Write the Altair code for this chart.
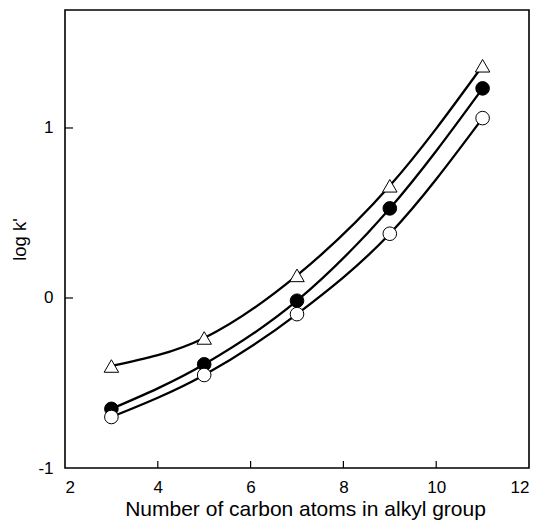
import altair as alt
import pandas as pd

carbons = [3, 5, 7, 9, 11]
triangle_vals = [-0.40, -0.235, 0.133, 0.66, 1.366]
filled_vals = [-0.652, -0.39, -0.016, 0.527, 1.233]
open_vals = [-0.70, -0.453, -0.095, 0.378, 1.058]

x_tick_labels = [2, 4, 6, 8, 10, 12]
y_tick_labels = [-1, 0, 1]
x_inner_ticks = [4, 6, 8, 10]
y_inner_ticks = [0, 1]

W, H = 464, 458
FONT = "Liberation Sans"

rows = []
for name, vals in [("triangle", triangle_vals), ("filled", filled_vals), ("open", open_vals)]:
    for c, v in zip(carbons, vals):
        rows.append({"n": c, "logk": v, "series": name})
df = pd.DataFrame(rows)

xscale = alt.Scale(domain=[2, 12], nice=False, zero=False)
yscale = alt.Scale(domain=[-1, 1.694], nice=False, zero=False)

xaxis = alt.Axis(values=x_tick_labels, ticks=False, domain=False, grid=False,
                 labelFontSize=17, labelPadding=11, labelFont=FONT,
                 labelColor="black", title="Number of carbon atoms in alkyl group",
                 titleFontSize=21, titleFont=FONT, titleFontWeight="normal",
                 titleColor="black", titlePadding=3, titleX=W / 2 + 8)
yaxis = alt.Axis(values=y_tick_labels, ticks=False, domain=False, grid=False,
                 labelFontSize=17, labelPadding=12, labelFont=FONT,
                 labelColor="black", labelExpr="toString(datum.value)",
                 title="log k'", titleFontSize=18.5, titleFont=FONT,
                 titleFontWeight="normal", titleColor="black", titlePadding=8)

base = alt.Chart(df)

lines = base.mark_line(color="black", strokeWidth=2.3, interpolate="monotone").encode(
    x=alt.X("n:Q", scale=xscale, axis=xaxis),
    y=alt.Y("logk:Q", scale=yscale, axis=yaxis),
    detail="series:N",
)

tri = base.transform_filter(alt.datum.series == "triangle").mark_point(
    shape="triangle-up", filled=True, fill="white", stroke="black", strokeWidth=1, size=210, opacity=1
).encode(x=alt.X("n:Q", scale=xscale), y=alt.Y("logk:Q", scale=yscale))

fil = base.transform_filter(alt.datum.series == "filled").mark_point(
    shape="circle", filled=True, fill="black", stroke="black", strokeWidth=1, size=185, opacity=1
).encode(x=alt.X("n:Q", scale=xscale), y=alt.Y("logk:Q", scale=yscale))

opn = base.transform_filter(alt.datum.series == "open").mark_point(
    shape="circle", filled=True, fill="white", stroke="black", strokeWidth=1, size=185, opacity=1
).encode(x=alt.X("n:Q", scale=xscale), y=alt.Y("logk:Q", scale=yscale))

xt = alt.Chart(pd.DataFrame({"t": x_inner_ticks})).mark_rule(color="black", strokeWidth=1.2).encode(
    x=alt.X("t:Q", scale=xscale), y=alt.value(H), y2=alt.value(H - 7)
)
yt = alt.Chart(pd.DataFrame({"t": y_inner_ticks})).mark_rule(color="black", strokeWidth=1.2).encode(
    y=alt.Y("t:Q", scale=yscale), x=alt.value(0), x2=alt.value(8)
)

chart = alt.layer(lines, xt, yt, tri, fil, opn).properties(
    width=W, height=H,
    autosize=alt.AutoSizeParams(type="none"),
    padding={"left": 57, "top": 2, "right": 2, "bottom": 54},
).configure_view(stroke="black", strokeWidth=1.6)

chart.save("out.html", embed_options={"renderer": "svg", "actions": False})
